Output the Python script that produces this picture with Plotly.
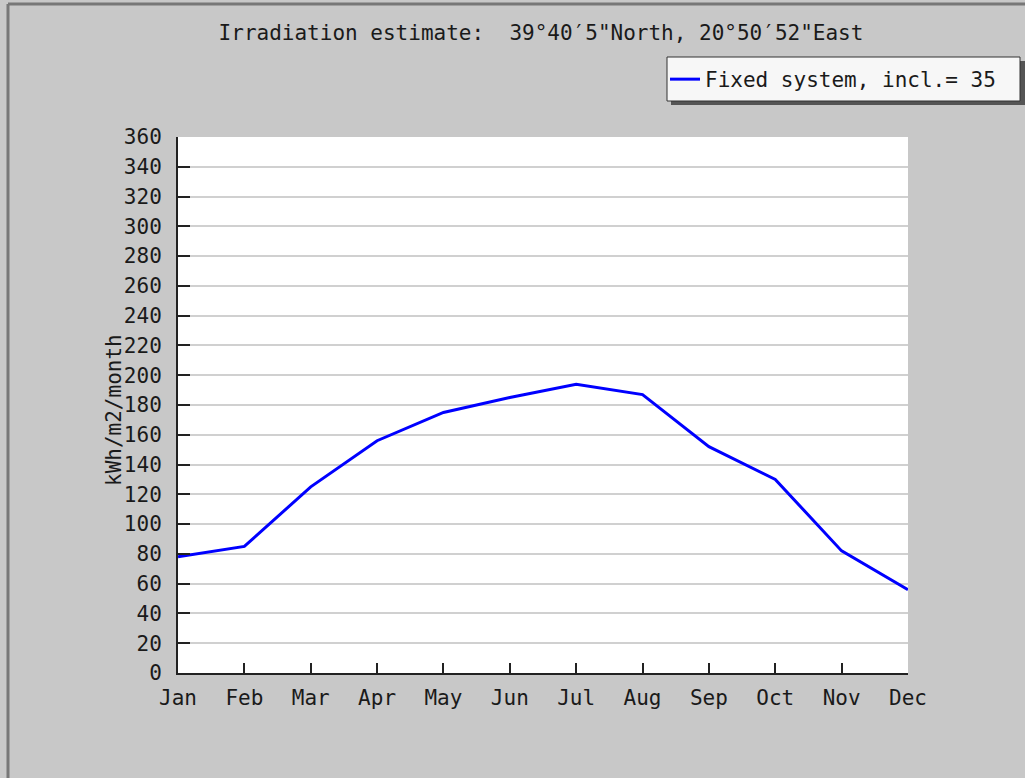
import plotly.graph_objects as go

months = ["Jan", "Feb", "Mar", "Apr", "May", "Jun", "Jul", "Aug", "Sep", "Oct", "Nov", "Dec"]
irradiation = [78, 85, 125, 156, 175, 185, 194, 187, 152, 130, 82, 56]
y_ticks = list(range(0, 361, 20))

W, H = 1025, 778
L, R, T, B = 178, 908, 137, 673

def px(x):
    return (x - L) / (R - L)

def py(y):
    return (B - y) / (B - T)

FONT = "DejaVu Sans Mono"
FS = 21
TXT = "#1a1a1a"

fig = go.Figure()
fig.add_trace(go.Scatter(
    x=list(range(len(months))), y=irradiation, mode="lines",
    line=dict(color="#0000ff", width=3),
    name="Fixed system, incl.= 35",
))

fig.update_layout(
    width=W, height=H,
    margin=dict(l=L, r=W - R, t=T, b=H - B, pad=0),
    paper_bgcolor="#c8c8c8", plot_bgcolor="#ffffff",
    font=dict(family=FONT, size=FS, color=TXT),
    title=dict(text="Irradiation estimate:  39°40′5\"North, 20°50′52\"East",
               x=541 / W, xanchor="center", y=1 - 33 / H, yanchor="middle",
               font=dict(family=FONT, size=FS, color=TXT)),
    showlegend=True,
    legend=dict(x=px(665), y=py(59), xanchor="left", yanchor="top",
                bgcolor="rgba(0,0,0,0)", borderwidth=0,
                font=dict(family=FONT, size=FS, color=TXT),
                itemwidth=30),
    xaxis=dict(range=[0, 11], tickmode="array", tickvals=list(range(12)), ticktext=months,
               ticks="inside", ticklen=10, tickwidth=2, tickcolor="#222",
               showline=True, linecolor="#222", linewidth=2,
               showgrid=False, zeroline=False, fixedrange=True,
               ticklabelstandoff=5),
    yaxis=dict(range=[0, 360], tickmode="array", tickvals=y_ticks,
               ticks="inside", ticklen=12, tickwidth=2, tickcolor="#222",
               showline=True, linecolor="#222", linewidth=2,
               showgrid=True, gridcolor="#d0d0d0", gridwidth=2,
               zeroline=False, ticklabelstandoff=10, fixedrange=True),
)

# y-axis title
fig.add_annotation(text="kWh/m2/month", xref="paper", yref="paper",
                   x=px(114), y=py(410), xanchor="center", yanchor="middle",
                   textangle=-90, showarrow=False,
                   font=dict(family=FONT, size=FS, color=TXT))

# legend box with drop shadow
fig.add_shape(type="rect", xref="paper", yref="paper",
              x0=px(671), x1=px(1025), y0=py(105), y1=py(61),
              fillcolor="#555555", line=dict(width=0), layer="above")
fig.add_shape(type="rect", xref="paper", yref="paper",
              x0=px(667), x1=px(1020), y0=py(101), y1=py(57),
              fillcolor="#f7f7f7", line=dict(color="#333333", width=1), layer="above")
# outer frame lines
fig.add_shape(type="line", xref="paper", yref="paper",
              x0=px(8), x1=px(1030), y0=py(4), y1=py(4),
              line=dict(color="#777777", width=3), layer="above")
fig.add_shape(type="line", xref="paper", yref="paper",
              x0=px(8), x1=px(8), y0=py(4), y1=py(790),
              line=dict(color="#777777", width=3), layer="above")

fig.write_html("out.html", config={"displayModeBar": False},
               post_script="document.body.style.margin='0';")
